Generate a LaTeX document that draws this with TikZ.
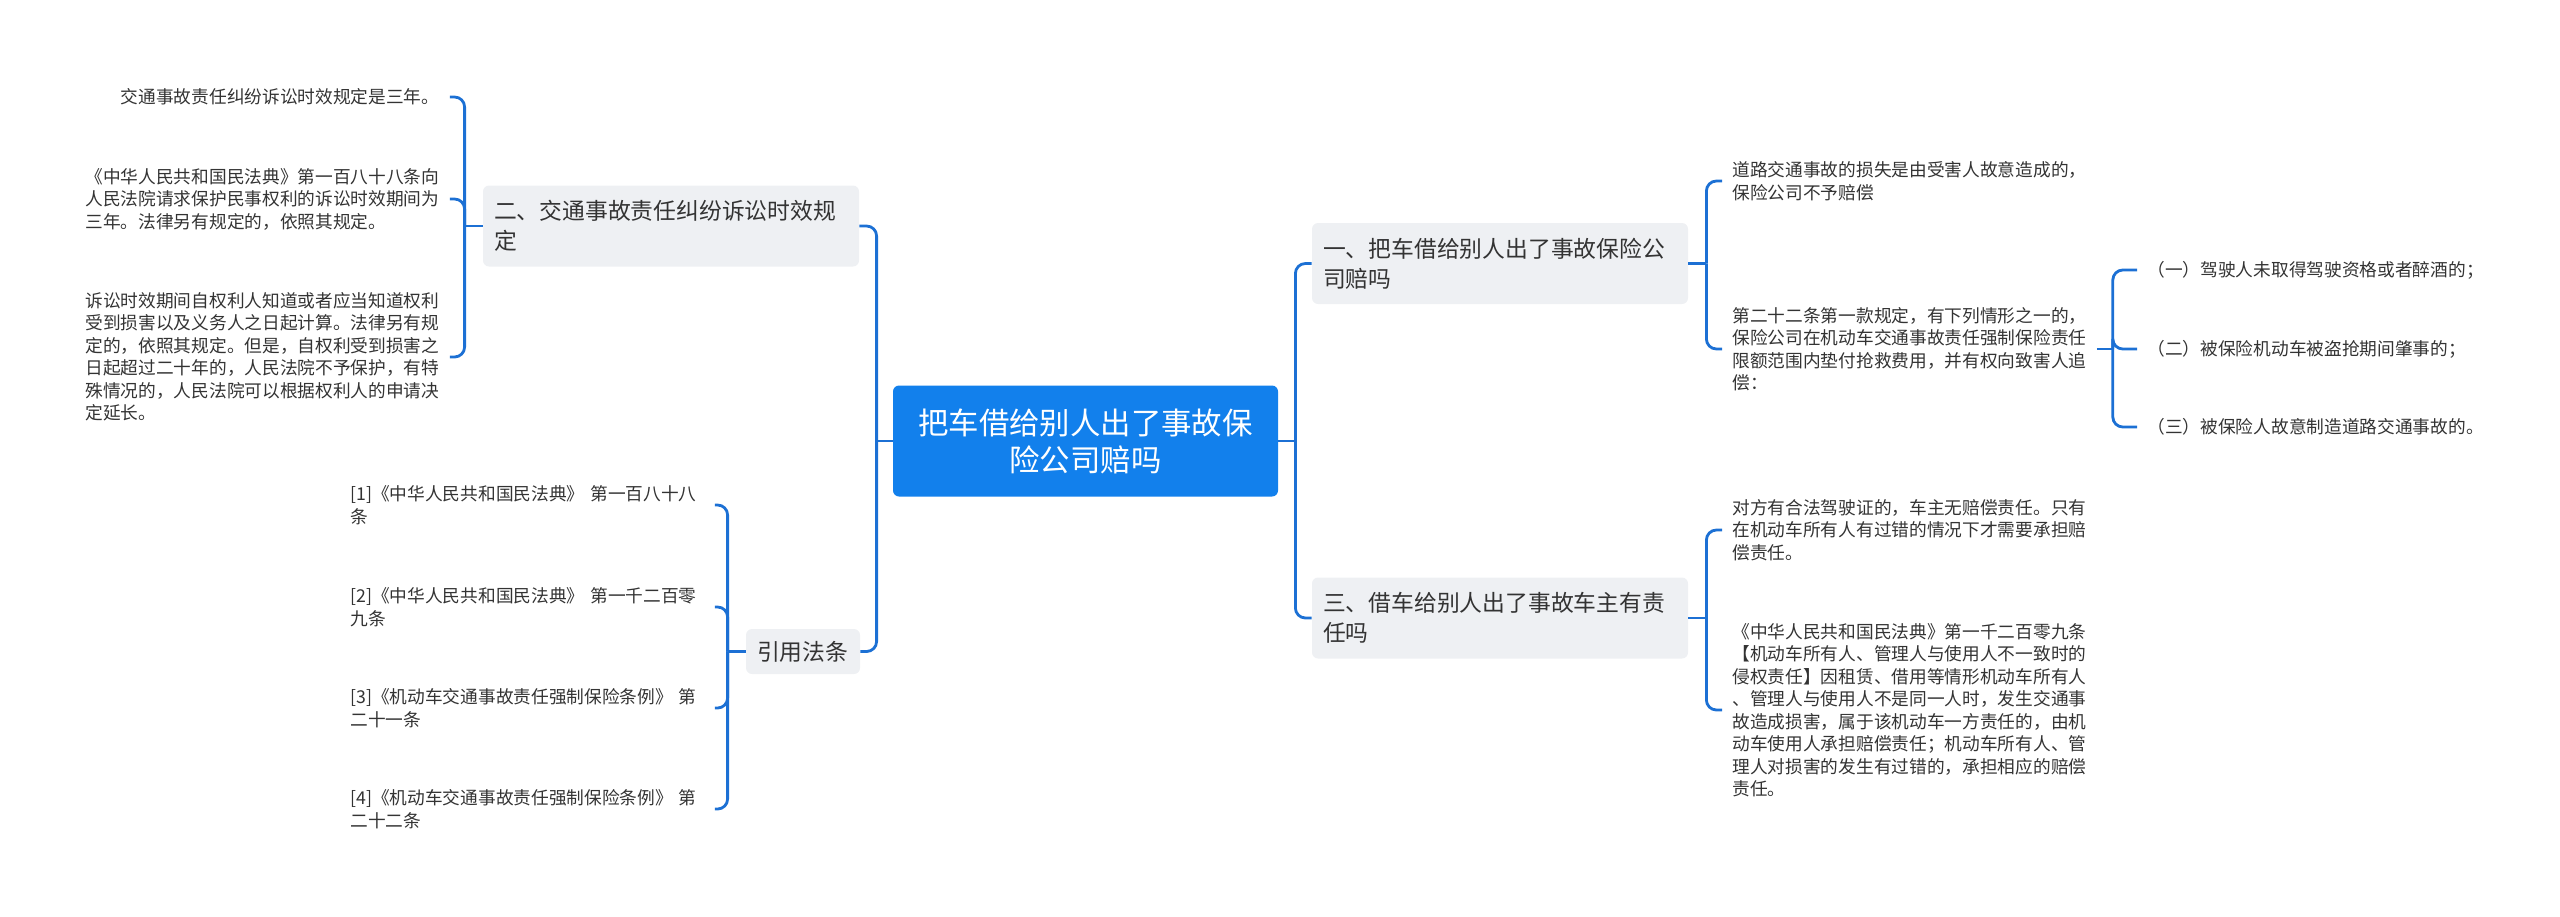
\documentclass[tikz,border=0pt]{standalone}
\usepackage{fontspec}
\setmainfont{Noto Sans CJK SC}
\usepackage{xcolor}
\definecolor{mapBlue}{RGB}{18, 128, 236}
\definecolor{mapLine}{RGB}{28, 112, 212}
\definecolor{mapGray}{RGB}{238, 240, 243}
\definecolor{mapText}{RGB}{51, 51, 51}
\usepackage{tikz}
\usetikzlibrary{positioning}

\begin{document}
\begin{tikzpicture}[
    x=0.5pt, y=-0.5pt,
    rootNode/.style={
        rectangle, rounded corners=3pt,
        fill=mapBlue, text=white,
        font=\fontsize{15.2}{18.5}\selectfont, align=center,
        inner sep=0pt, minimum width=192.5pt, minimum height=55.5pt
    },
    topicNode/.style={
        rectangle, rounded corners=3pt,
        fill=mapGray, text=mapText,
        font=\fontsize{11.4}{15}\selectfont, align=left,
        text width=177pt, inner xsep=5.5pt, inner ysep=0pt,
        minimum height=40.5pt
    },
    leafNode/.style={
        anchor=west, text=mapText,
        font=\fontsize{8.85}{11.25}\selectfont, align=left,
        text width=177pt, inner xsep=5pt, inner ysep=0pt
    },
    branchLink/.style={
        draw=mapLine, line width=1.4pt, rounded corners=5pt
    }
]
    \useasboundingbox (0,0) rectangle (2560,916);

    % Main topics
    \node[rootNode] (root) at (1085.5, 441) {把车借给别人出了事故保\\险公司赔吗};

    \node[topicNode] (limitation) at (671, 226) {二、交通事故责任纠纷诉讼时效规\\定};
    \node[topicNode, text width=46pt, minimum height=22.5pt] (citations) at (803, 651.5) {引用法条};
    \node[topicNode] (insurer) at (1500, 263.5) {一、把车借给别人出了事故保险公\\司赔吗};
    \node[topicNode] (owner) at (1500, 618) {三、借车给别人出了事故车主有责\\任吗};

    % Left leaves
    \node[leafNode] (limitOne) at (75, 97) {\hspace*{2em}交通事故责任纠纷诉讼时效规定是三年。};
    \node[leafNode] (limitTwo) at (75, 199) {《中华人民共和国民法典》第一百八十八条向\\人民法院请求保护民事权利的诉讼时效期间为\\三年。法律另有规定的，依照其规定。};
    \node[leafNode] (limitThree) at (75, 357) {诉讼时效期间自权利人知道或者应当知道权利\\受到损害以及义务人之日起计算。法律另有规\\定的，依照其规定。但是，自权利受到损害之\\日起超过二十年的，人民法院不予保护，有特\\殊情况的，人民法院可以根据权利人的申请决\\定延长。};

    \node[leafNode] (citeOne) at (340, 505) {[1]《中华人民共和国民法典》~第一百八十八\\条};
    \node[leafNode] (citeTwo) at (340, 607) {[2]《中华人民共和国民法典》~第一千二百零\\九条};
    \node[leafNode] (citeThree) at (340, 708) {[3]《机动车交通事故责任强制保险条例》~第\\二十一条};
    \node[leafNode] (citeFour) at (340, 809) {[4]《机动车交通事故责任强制保险条例》~第\\二十二条};

    % Right leaves
    \node[leafNode] (insurerOne) at (1722, 181) {道路交通事故的损失是由受害人故意造成的，\\保险公司不予赔偿};
    \node[leafNode] (insurerTwo) at (1722, 349) {第二十二条第一款规定，有下列情形之一的，\\保险公司在机动车交通事故责任强制保险责任\\限额范围内垫付抢救费用，并有权向致害人追\\偿：};

    \node[leafNode] (caseOne) at (2137, 270) {（一）驾驶人未取得驾驶资格或者醉酒的；};
    \node[leafNode] (caseTwo) at (2137, 349) {（二）被保险机动车被盗抢期间肇事的；};
    \node[leafNode] (caseThree) at (2137, 427) {（三）被保险人故意制造道路交通事故的。};

    \node[leafNode] (ownerOne) at (1722, 530) {对方有合法驾驶证的，车主无赔偿责任。只有\\在机动车所有人有过错的情况下才需要承担赔\\偿责任。};
    \node[leafNode] (ownerTwo) at (1722, 710) {《中华人民共和国民法典》第一千二百零九条\\【机动车所有人、管理人与使用人不一致时的\\侵权责任】因租赁、借用等情形机动车所有人\\、管理人与使用人不是同一人时，发生交通事\\故造成损害，属于该机动车一方责任的，由机\\动车使用人承担赔偿责任；机动车所有人、管\\理人对损害的发生有过错的，承担相应的赔偿\\责任。};

    % Joints
    \coordinate (leftJoint) at ([xshift=-8pt]root.west);
    \coordinate (rightJoint) at ([xshift=8.5pt]root.east);
    \coordinate (limitJoint) at ([xshift=-9pt]limitation.west);
    \coordinate (citeJoint) at ([xshift=-9pt]citations.west);
    \coordinate (insurerJoint) at ([xshift=9pt]insurer.east);
    \coordinate (ownerJoint) at ([xshift=9pt]owner.east);
    \coordinate (caseJoint) at ([xshift=8pt]insurerTwo.east);

    % Connectors
    \draw[branchLink] (root.west) -- (leftJoint);
    \draw[branchLink] (leftJoint) |- (limitation.east);
    \draw[branchLink] (leftJoint) |- (citations.east);
    \draw[branchLink] (root.east) -- (rightJoint);
    \draw[branchLink] (rightJoint) |- (insurer.west);
    \draw[branchLink] (rightJoint) |- (owner.west);

    \draw[branchLink] (limitation.west) -- (limitJoint);
    \draw[branchLink] (limitJoint) |- (limitOne.east);
    \draw[branchLink] (limitJoint) |- (limitTwo.east);
    \draw[branchLink] (limitJoint) |- (limitThree.east);

    \draw[branchLink] (citations.west) -- (citeJoint);
    \draw[branchLink] (citeJoint) |- (citeOne.east);
    \draw[branchLink] (citeJoint) |- (citeTwo.east);
    \draw[branchLink] (citeJoint) |- (citeThree.east);
    \draw[branchLink] (citeJoint) |- (citeFour.east);

    \draw[branchLink] (insurer.east) -- (insurerJoint);
    \draw[branchLink] (insurerJoint) |- (insurerOne.west);
    \draw[branchLink] (insurerJoint) |- (insurerTwo.west);

    \draw[branchLink] (insurerTwo.east) -- (caseJoint);
    \draw[branchLink] (caseJoint) |- (caseOne.west);
    \draw[branchLink] (caseJoint) |- (caseTwo.west);
    \draw[branchLink] (caseJoint) |- (caseThree.west);

    \draw[branchLink] (owner.east) -- (ownerJoint);
    \draw[branchLink] (ownerJoint) |- (ownerOne.west);
    \draw[branchLink] (ownerJoint) |- (ownerTwo.west);

\end{tikzpicture}
\end{document}
